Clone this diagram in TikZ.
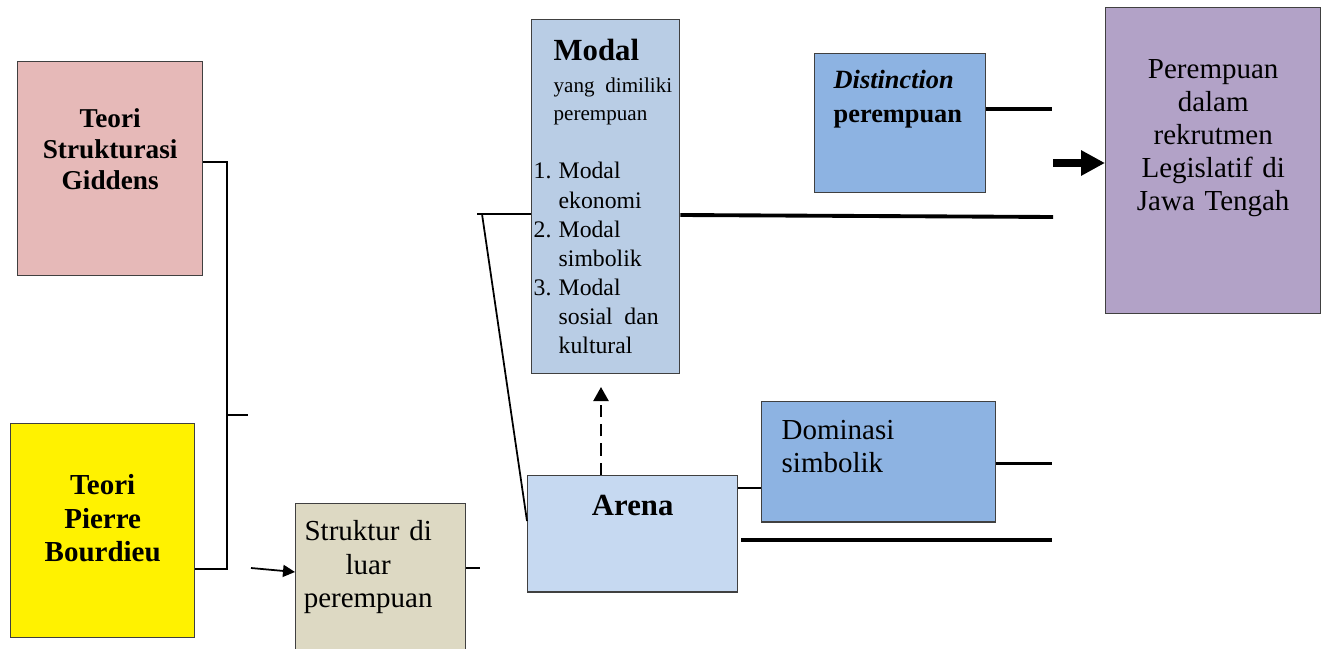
\documentclass[tikz,border=0pt]{standalone}
\usepackage{fontspec}
\setmainfont{Liberation Serif}
\usetikzlibrary{arrows.meta}
\definecolor{giddensfill}{HTML}{E6B9B8}
\definecolor{strukturfill}{HTML}{DDD9C3}
\definecolor{modalfill}{HTML}{B9CDE5}
\definecolor{arenafill}{HTML}{C6D9F1}
\definecolor{dominasifill}{HTML}{8DB3E2}
\definecolor{rekrutfill}{HTML}{B2A2C7}

\begin{document}
\begin{tikzpicture}[x=0.02cm,y=-0.02cm,
  box/.style={draw=black!75,line width=0.8pt,anchor=north west,inner ysep=0pt},
  thinline/.style={line width=1pt},
  thickline/.style={line width=2.2pt}]
\useasboundingbox (0,0) rectangle (1326,649);
\node[box,fill=giddensfill,inner xsep=0pt,text width=3.7cm,align=center,
  text height=1.32cm,text depth=2.96cm,font=\fontsize{15.5}{17.6}\selectfont\bfseries]
  (giddens) at (17,61) {Teori\\Strukturasi\\Giddens};
\node[box,fill=yellow,inner xsep=0pt,text width=3.68cm,align=center,
  text height=1.42cm,text depth=2.86cm,font=\fontsize{16.5}{19}\selectfont\bfseries]
  (bourdieu) at (10,423) {Teori\\Pierre\\Bourdieu};
\node[box,fill=strukturfill,inner xsep=0pt,text width=3.4cm,
  text height=0.74cm,text depth=2.3cm,font=\fontsize{16.5}{19}\selectfont]
  (struktur) at (295,503) {%
  \leftskip=0pt plus 1fil\rightskip=0.5cm plus 1fil\parfillskip=0pt
  Struktur di\par luar\par perempuan\par};
\node[box,fill=modalfill,inner xsep=0.04cm,text width=2.88cm,
  text height=0.82cm,text depth=6.26cm]
  (modal) at (531,19) {%
  \fontsize{17.5}{20}\selectfont\bfseries\hspace*{0.4cm}Modal\par
  \fontsize{12}{18}\selectfont\mdseries\hspace*{0.4cm}\hbox to 2.37cm{yang\hfill dimiliki}\par
  \fontsize{12}{16.1}\selectfont\hspace*{0.4cm}perempuan\par
  \fontsize{13.5}{33.2}\selectfont\makebox[0.5cm][l]{1.}Modal\par
  \fontsize{13.5}{16.6}\selectfont\hspace*{0.5cm}ekonomi\par
  \makebox[0.5cm][l]{2.}Modal\par
  \hspace*{0.5cm}simbolik\par
  \makebox[0.5cm][l]{3.}Modal\par
  \hspace*{0.5cm}\hbox to 2cm{sosial\hfill dan}\par
  \hspace*{0.5cm}kultural\par};
\node[box,fill=arenafill,inner xsep=0pt,text width=4.2cm,align=center,
  text height=0.8cm,text depth=1.53cm,font=\fontsize{17.5}{20}\selectfont\bfseries]
  (arena) at (527,475) {Arena};
\node[box,fill=dominasifill,inner xsep=0.38cm,text width=2.66cm,align=left,
  text height=0.7cm,text depth=2.08cm,font=\fontsize{15}{19.4}\selectfont\bfseries]
  (distinction) at (814,53) {{\itshape Distinction}\\perempuan};
\node[box,fill=dominasifill,inner xsep=0.4cm,text width=3.88cm,align=left,
  text height=0.76cm,text depth=1.65cm,font=\fontsize{16.5}{18.6}\selectfont]
  (dominasi) at (761,401) {Dominasi\\simbolik};
\node[box,fill=rekrutfill,inner xsep=0pt,text width=4.3cm,align=center,
  text height=1.42cm,text depth=4.7cm,font=\fontsize{16.5}{18.8}\selectfont]
  (rekrutmen) at (1105,7) {Perempuan\\dalam\\rekrutmen\\Legislatif di\\Jawa Tengah};
\coordinate (brmid) at (227,415);
\coordinate (brout) at (248,415);
\coordinate (arrstart) at (251,568);
\coordinate (strukout) at (480,568);
\coordinate (modalin) at (477,214);
\coordinate (slant) at (482,214);
\coordinate (modalout) at (1053,217);
\coordinate (dashtip) at (601,387);
\coordinate (domout) at (1052,463.5);
\coordinate (arenaout) at (741,540);
\coordinate (arenaend) at (1052,540);
\coordinate (distout) at (1052,109);
\coordinate (bigarr) at (1053,163);
\draw[thinline] (giddens.east |- 0,162) -| (227,569) -- (bourdieu.east |- 0,569);
\draw[thinline] (brmid) -- (brout);
\draw[thinline,-{Triangle[length=0.24cm,width=0.24cm]}] (arrstart) -- (struktur.west |- 0,572);
\draw[thinline] (struktur.east |- 0,568) -- (strukout);
\draw[thinline] (modalin) -- (modal.west |- 0,214);
\draw[thinline] (slant) -- (arena.west |- 0,521);
\draw[thickline] (modal.east |- 0,215) -- (modalout);
\draw[line width=1.3pt,dash pattern=on 7pt off 4pt,-{Triangle[length=0.28cm,width=0.3cm]}]
  (arena.north -| 601,0) -- (dashtip);
\draw[thinline] (arena.east |- 0,488) -- (dominasi.west |- 0,488);
\draw[thickline] (dominasi.east |- 0,463.5) -- (domout);
\draw[thickline] (arenaout) -- (arenaend);
\draw[thickline] (distinction.east |- 0,109) -- (distout);
\draw[line width=5pt,-{Triangle[length=0.48cm,width=0.48cm]}] (bigarr) -- (rekrutmen.west |- 0,163);
\end{tikzpicture}
\end{document}
